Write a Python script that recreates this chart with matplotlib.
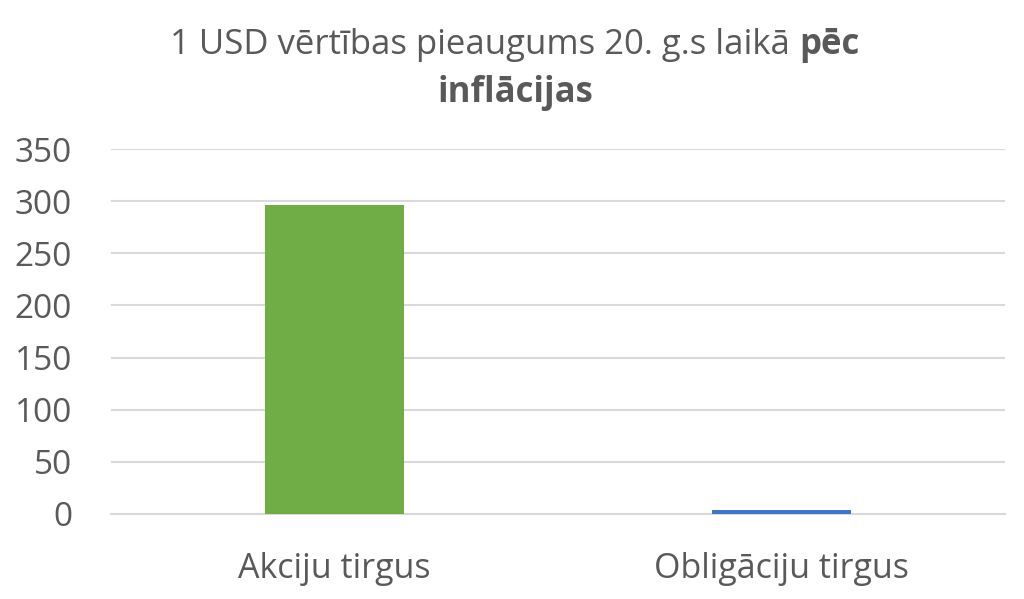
import matplotlib
matplotlib.use("Agg")
import matplotlib.pyplot as plt

categories = ["Akciju tirgus", "Obligāciju tirgus"]
values = [296, 4.3]
bar_colors = ["#70AD47", "#4472C4"]
yticks = [0, 50, 100, 150, 200, 250, 300, 350]

title_normal = "1 USD vērtības pieaugums 20. g.s laikā "
title_bold_1 = "pēc"
title_bold_2 = "inflācijas"

plt.rcParams['font.family'] = ['Open Sans', 'DejaVu Sans']
text_color = "#595959"

W, H = 1024, 599
fig = plt.figure(figsize=(W / 100, H / 100), dpi=100)
ax = fig.add_axes([111 / W, 1 - 514 / H, (1005 - 111) / W, (514 - 149) / H])

x = list(range(len(categories)))
ax.bar(x, values, width=0.31, color=bar_colors, zorder=3)
ax.set_xlim(-0.5, len(categories) - 0.5)
ax.set_ylim(0, 350)
ax.set_yticks(yticks)
ax.set_xticks(x)
ax.set_xticklabels(categories)
ax.yaxis.grid(True, color="#D9D9D9", linewidth=1.5, zorder=0)
ax.set_axisbelow(True)
for s in ["top", "right", "left"]:
    ax.spines[s].set_visible(False)
ax.spines["bottom"].set_color("#D9D9D9")
ax.spines["bottom"].set_linewidth(1.5)
ax.tick_params(axis="y", length=0, pad=28, labelsize=24, labelcolor=text_color)
ax.tick_params(axis="x", length=0, pad=27, labelsize=24.5, labelcolor=text_color)

# title with mixed bold, measured so the pieces sit centered
fig.canvas.draw()
r = fig.canvas.get_renderer()
fs = 25
t1 = fig.text(0, 0, title_normal, fontsize=fs, color=text_color, va="center")
t2 = fig.text(0, 0, title_bold_1, fontsize=fs, color=text_color, va="center", fontweight="bold")
w1 = t1.get_window_extent(r).width
w2 = t2.get_window_extent(r).width
cx = 515
x0 = cx - (w1 + w2) / 2
y1 = 1 - 45 / H
t1.set_position((x0 / W, y1))
t2.set_position(((x0 + w1) / W, y1))
fig.text(cx / W, 1 - 93 / H, title_bold_2, fontsize=fs, color=text_color,
         va="center", ha="center", fontweight="bold")

fig.savefig("out.png", dpi=100)
